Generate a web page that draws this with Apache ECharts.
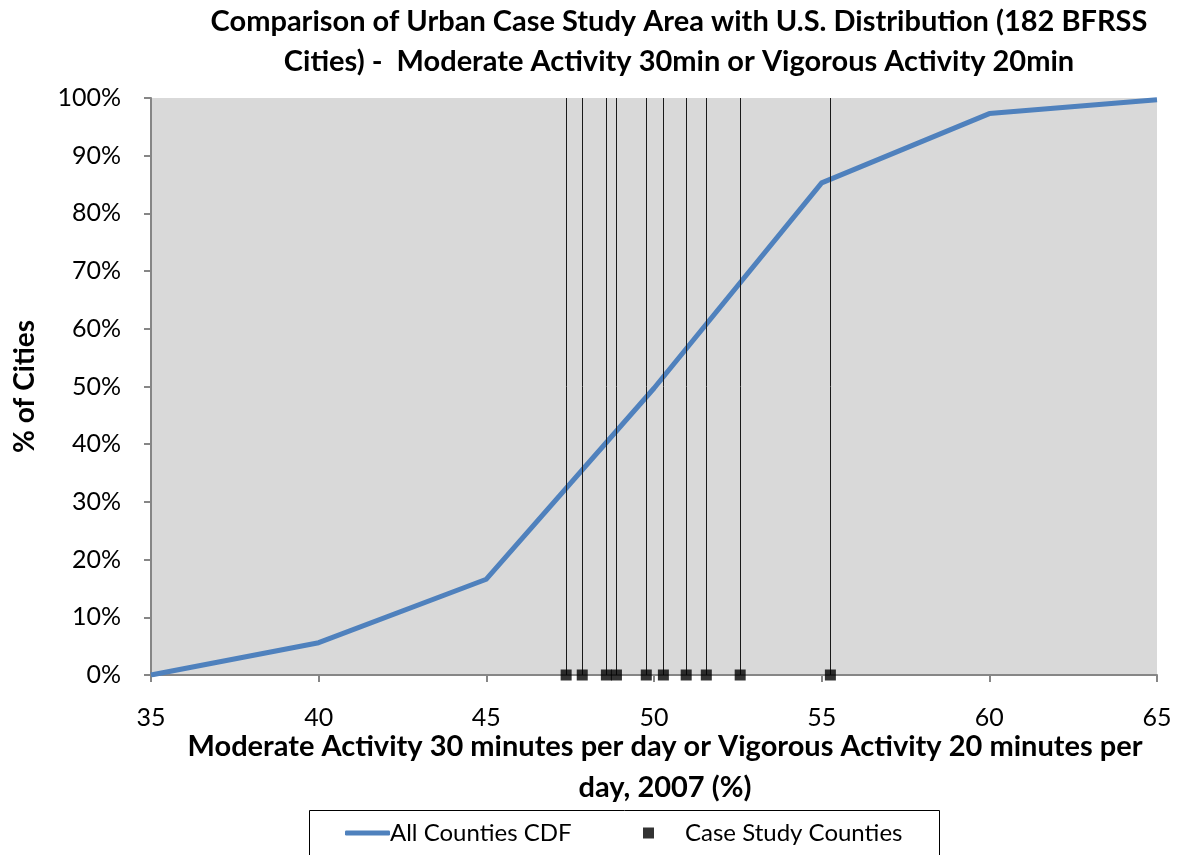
<!DOCTYPE html>
<html>
<head>
<meta charset="utf-8">
<script src="https://cdn.jsdelivr.net/npm/echarts@6/dist/echarts.min.js"></script>
<style>
  html, body { margin: 0; padding: 0; background: #fff; }
  #chart { width: 1177px; height: 855px; }
</style>
</head>
<body>
<div id="chart"></div>
<script>
// CDF of activity share across all cities (x = % active, y = cumulative share)
const cdfX = [35, 40, 45, 50, 55, 60, 65];
const cdfY = [0.0, 0.056, 0.166, 0.497, 0.853, 0.973, 0.997];

// Case study counties (x = % active), plotted on the zero line
const caseX = [47.38, 47.86, 48.58, 48.88, 49.77, 50.28, 50.96, 51.56, 52.57, 55.26];

const xTicks = { min: 35, max: 65, interval: 5 };
const yTicks = { min: 0, max: 1, interval: 0.1 };

const FONT = 'Lato, "Open Sans", sans-serif';

const chart = echarts.init(document.getElementById('chart'), null, { renderer: 'canvas' });

const option = {
  animation: false,
  backgroundColor: '#ffffff',
  textStyle: { fontFamily: FONT },
  title: {
    text: 'Comparison of Urban Case Study Area with U.S. Distribution (182 BFRSS\nCities) -  Moderate Activity 30min or Vigorous Activity 20min',
    left: 674,
    textAlign: 'center',
    top: -3,
    textStyle: { fontFamily: FONT, fontWeight: 'bold', fontSize: 29, lineHeight: 40, color: '#000' }
  },
  grid: { left: 151, right: 20, top: 98, bottom: 180, show: true, backgroundColor: '#d9d9d9', borderWidth: 0 },
  legend: [
    {
      data: [{ name: 'All Counties CDF', icon: 'roundRect' }],
      left: 340, top: 816,
      itemWidth: 45, itemHeight: 5, itemGap: 0,
      itemStyle: { color: '#4f81bd', borderWidth: 0 },
      textStyle: { fontFamily: FONT, fontSize: 24, color: '#000', padding: [0, 0, 0, -5] }
    },
    {
      data: [{ name: 'Case Study Counties', icon: 'rect' }],
      left: 638, top: 816,
      itemWidth: 11, itemHeight: 11, itemGap: 0,
      textStyle: { fontFamily: FONT, fontSize: 24, color: '#000', padding: [0, 0, 0, 26] }
    }
  ],
  graphic: [
    {
      type: 'rect', left: 307, top: 808, z: -1,
      shape: { width: 630, height: 46 },
      style: { fill: 'none', stroke: '#000', lineWidth: 1 }
    }
  ],
  xAxis: {
    type: 'value',
    min: xTicks.min, max: xTicks.max, interval: xTicks.interval,
    name: 'Moderate Activity 30 minutes per day or Vigorous Activity 20 minutes per\nday, 2007 (%)',
    nameLocation: 'middle',
    nameGap: 51,
    nameMoveOverlap: false,
    nameTextStyle: { fontFamily: FONT, fontWeight: 'bold', fontSize: 29, lineHeight: 41, color: '#000', padding: [0, 0, 0, 22] },
    axisLine: { show: true, lineStyle: { color: '#868686', width: 2 } },
    axisTick: { show: true, inside: false, length: 7, lineStyle: { color: '#868686', width: 2 } },
    axisLabel: { fontFamily: FONT, fontSize: 25, color: '#000', margin: 30 },
    splitLine: { show: false }
  },
  yAxis: {
    type: 'value',
    min: yTicks.min, max: yTicks.max, interval: yTicks.interval,
    name: '% of Cities',
    nameLocation: 'middle',
    nameGap: 112,
    nameMoveOverlap: false,
    nameRotate: 90,
    nameTextStyle: { fontFamily: FONT, fontWeight: 'bold', fontSize: 28, color: '#000' },
    axisLine: { show: true, lineStyle: { color: '#868686', width: 2 } },
    axisTick: { show: true, inside: false, length: 7, lineStyle: { color: '#868686', width: 2 } },
    axisLabel: { fontFamily: FONT, fontSize: 25, color: '#000', margin: 30,
      formatter: v => Math.round(v * 100) + '%' },
    splitLine: { show: false }
  },
  series: [
    {
      name: 'All Counties CDF',
      type: 'line',
      data: cdfX.map((x, i) => [x, cdfY[i]]),
      showSymbol: false,
      symbol: 'none',
      lineStyle: { color: '#4f81bd', width: 5, join: 'round' },
      itemStyle: { color: '#4f81bd' },
      z: 4
    },
    {
      name: 'Case Study Counties',
      type: 'scatter',
      data: caseX.map(x => [x, 0]),
      symbol: 'rect',
      symbolSize: 11,
      itemStyle: { color: '#000' },
      z: 5,
      markLine: {
        silent: true,
        symbol: 'none',
        label: { show: false },
        lineStyle: { color: '#1a1a1a', width: 1, type: 'solid' },
        data: caseX.map(x => ({ xAxis: x }))
      }
    }
  ]
};

chart.setOption(option);
</script>
</body>
</html>
